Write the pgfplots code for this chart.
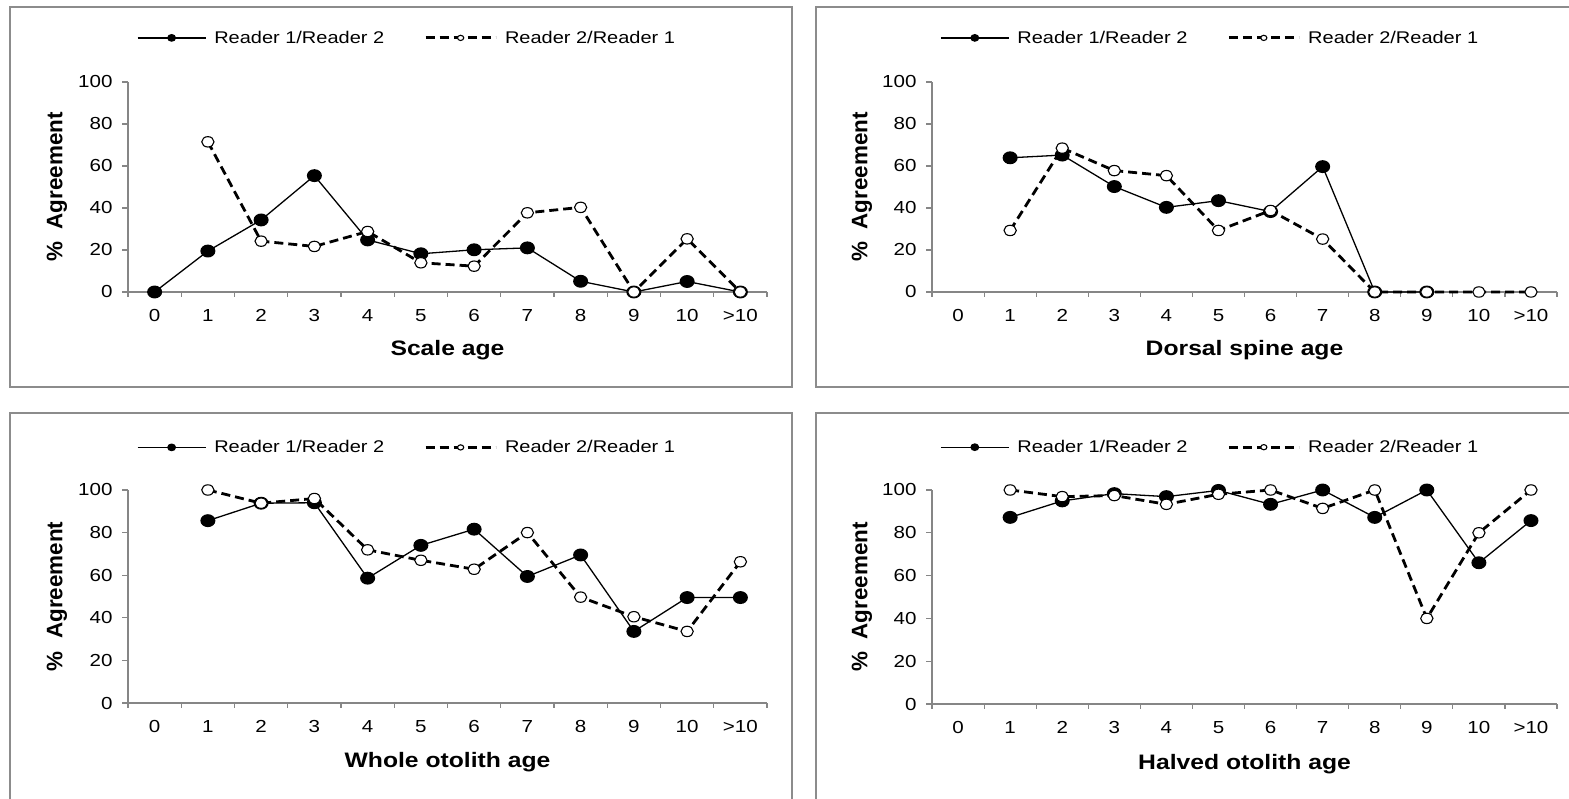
\documentclass[border=0pt]{standalone}
\usepackage{fontspec}
\setmainfont{Liberation Sans}[FakeStretch=1.18]
\newfontfamily\ylabfont{Liberation Sans}
\usepackage{pgfplots}
\pgfplotsset{compat=1.18}
\definecolor{axgray}{HTML}{868686}
\definecolor{framegray}{HTML}{8C8C8C}
\pgfplotsset{
 myaxis/.style={
  scale only axis, width=639bp, height=210bp,
  xmin=-0.5, xmax=11.5, ymin=0, ymax=100,
  axis lines=left, axis line style={-, axgray, line width=1.2bp},
  xtick={0,...,11}, xticklabels={0,1,2,3,4,5,6,7,8,9,10,>10},
  minor xtick={-0.5,0.5,...,11.5},
  ytick={0,20,...,100},
  tick align=outside,
  major tick length=6bp, minor tick length=5bp,
  tick style={axgray, line width=1.2bp},
  major x tick style={draw=none},
  tick label style={font=\fontsize{17.5}{20}\selectfont, black},
  xticklabel style={yshift=-8bp},
  yticklabel style={xshift=-6bp},
  /pgf/number format/assume math mode=true,
  xlabel style={font=\bfseries\fontsize{21}{24}\selectfont, at={(axis description cs:0.5,-0.276)}, anchor=center},
  ylabel={\ylabfont\bfseries\fontsize{22.5}{26}\selectfont \%\ \ Agreement},
  ylabel style={at={(axis description cs:-0.111,0.5)}, anchor=center},
  clip=false,
  legend columns=2,
  legend style={draw=none, fill=none, inner sep=0pt, outer sep=0pt,
    font=\fontsize{17}{20}\selectfont,
    nodes={inner sep=0pt, outer sep=0pt},
    /tikz/every odd column/.append style={column sep=8bp},
    /tikz/every even column/.append style={column sep=40bp},
    at={(0.014,1.21)}, anchor=west},
 },
 r12/.style={black, line width=1.3bp, solid, mark=*, mark size=5.8bp,
   mark options={xscale=1.18, solid, fill=black},
   legend image code/.code={\draw[mark repeat=2, mark phase=2, mark size=3.2bp] plot coordinates {(0bp,0bp) (34bp,0bp) (68bp,0bp)};}},
 r21/.style={black, line width=2.8bp, dash pattern=on 9bp off 5bp, mark=*, mark size=5.2bp,
   mark options={xscale=1.18, solid, fill=white, draw=black, line width=1.1bp},
   legend image code/.code={\draw[mark repeat=2, mark phase=2, mark size=2.6bp] plot coordinates {(0bp,0bp) (35bp,0bp) (70bp,0bp)};}},
}
\begin{document}
\begin{tikzpicture}[x=1bp,y=1bp]
\useasboundingbox (0,0) rectangle (1569,798);
\draw[framegray, line width=1.5bp] (10,411) rectangle (792,791);
\draw[framegray, line width=1.5bp] (816,411) rectangle (1575,791);
\draw[framegray, line width=1.5bp] (10,-10) -- (10,385) -- (792,385) -- (792,-10);
\draw[framegray, line width=1.5bp] (816,-10) -- (816,385) -- (1575,385);

% Panel 1
\begin{axis}[myaxis, at={(128bp,506bp)}, anchor=south west, xlabel={Scale age}]
\addplot[r12] coordinates {(0,0) (1,19.5) (2,34.3) (3,55.4) (4,24.8) (5,18.2) (6,20.1) (7,21) (8,5.1) (9,0) (10,5) (11,0)};
\addlegendentry{Reader 1/Reader 2}
\addplot[r21] coordinates {(1,71.5) (2,24.2) (3,21.7) (4,28.8) (5,13.9) (6,12.3) (7,37.7) (8,40.3) (9,0) (10,25.3) (11,0)};
\addlegendentry{Reader 2/Reader 1}
\end{axis}

% Panel 2
\begin{axis}[myaxis, width=625bp, at={(932bp,506bp)}, anchor=south west, xlabel={Dorsal spine age},
  ylabel style={at={(axis description cs:-0.112,0.5)}}, legend style={at={(0.013,1.21)}}]
\addplot[r12] coordinates {(1,63.9) (2,65.2) (3,50.2) (4,40.3) (5,43.5) (6,38.3) (7,59.7) (8,0) (9,0)};
\addlegendentry{Reader 1/Reader 2}
\addplot[r21] coordinates {(1,29.3) (2,68.5) (3,57.8) (4,55.4) (5,29.3) (6,38.8) (7,25.2) (8,0) (9,0) (10,0) (11,0)};
\addlegendentry{Reader 2/Reader 1}
\end{axis}

% Panel 3
\begin{axis}[myaxis, height=213bp, at={(128bp,95bp)}, anchor=south west, xlabel={Whole otolith age},
  xlabel style={at={(axis description cs:0.5,-0.277)}}, legend style={at={(0.014,1.20)}}]
\addplot[r12] coordinates {(1,85.6) (2,93.8) (3,94) (4,58.6) (5,74) (6,81.6) (7,59.4) (8,69.5) (9,33.6) (10,49.5) (11,49.5)};
\addlegendentry{Reader 1/Reader 2}
\addplot[r21] coordinates {(1,100) (2,93.8) (3,96) (4,71.9) (5,67) (6,62.8) (7,80) (8,49.7) (9,40.5) (10,33.6) (11,66.3)};
\addlegendentry{Reader 2/Reader 1}
\end{axis}

% Panel 4
\begin{axis}[myaxis, width=625bp, height=214bp, at={(932bp,94bp)}, anchor=south west, xlabel={Halved otolith age},
  xlabel style={at={(axis description cs:0.5,-0.28)}},
  ylabel style={at={(axis description cs:-0.112,0.5)}}, legend style={at={(0.013,1.20)}}]
\addplot[r12] coordinates {(1,87.2) (2,94.9) (3,98.3) (4,96.9) (5,99.8) (6,93.3) (7,100) (8,87.2) (9,100) (10,66) (11,85.7)};
\addlegendentry{Reader 1/Reader 2}
\addplot[r21] coordinates {(1,100) (2,96.9) (3,97.4) (4,93.3) (5,98) (6,100) (7,91.4) (8,100) (9,40) (10,80) (11,100)};
\addlegendentry{Reader 2/Reader 1}
\end{axis}
\end{tikzpicture}
\end{document}
